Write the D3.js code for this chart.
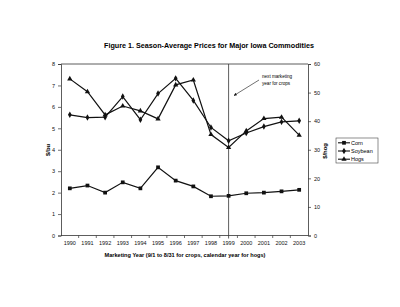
<!DOCTYPE html>
<html><head><meta charset="utf-8">
<script src="https://cdn.jsdelivr.net/npm/d3@7"></script>
<style>
html,body{margin:0;padding:0;background:#fff;}
svg{display:block;font-family:"Liberation Sans",Arial,sans-serif;}
</style></head>
<body><svg id="c" width="400" height="307"></svg>
<script>
const years = ["1990","1991","1992","1993","1994","1995","1996","1997","1998","1999","2000","2001","2002","2003"];
const corn = [2.20,2.33,2.00,2.48,2.20,3.18,2.56,2.29,1.83,1.85,1.97,2.00,2.06,2.13];
const soybean = [5.63,5.50,5.52,6.48,5.40,6.62,7.33,6.30,5.04,4.42,4.78,5.08,5.30,5.35];
const hogs = [54.8,50.3,42.2,45.3,43.6,40.8,52.7,54.4,35.3,30.8,36.6,40.9,41.4,35.1];
const leftTicks = [0,1,2,3,4,5,6,7,8];
const rightTicks = [0,10,20,30,40,50,60];
const markerYear = "1999";

const svg = d3.select("#c");
const L=61, R=308, T=64, B=235.5;
const x = d3.scaleBand().domain(years).range([L,R]);
const yL = d3.scaleLinear().domain([0,8]).range([B,T]);
const yR = d3.scaleLinear().domain([0,60]).range([B,T]);
const cx = d => x(d)+x.bandwidth()/2;

svg.append("text").attr("x",209).attr("y",48).attr("text-anchor","middle")
  .attr("font-size",7.2).attr("font-weight","bold").text("Figure 1. Season-Average Prices for Major Iowa Commodities");

// frame
svg.append("line").attr("x1",L).attr("x2",R).attr("y1",T).attr("y2",T).attr("stroke","#333").attr("stroke-width",0.8);

const gl = svg.append("g").attr("transform",`translate(${L},0)`)
  .call(d3.axisLeft(yL).tickValues(leftTicks).tickSize(3).tickFormat(d3.format("d")));
const gr = svg.append("g").attr("transform",`translate(${R},0)`)
  .call(d3.axisRight(yR).tickValues(rightTicks).tickSize(3).tickFormat(d3.format("d")));
const gb = svg.append("g").attr("transform",`translate(0,${B})`)
  .call(d3.axisBottom(x).tickSize(0).tickPadding(6));
// category boundary ticks
svg.append("g").selectAll("line").data(years.slice(1)).join("line")
  .attr("x1",d=>x(d)).attr("x2",d=>x(d)).attr("y1",B).attr("y2",B+2.5).attr("stroke","#333").attr("stroke-width",0.7);
[gl,gr,gb].forEach(g=>{
  g.selectAll("path").attr("stroke","#333").attr("stroke-width",0.8);
  g.selectAll("line").attr("stroke","#333").attr("stroke-width",0.7);
  g.selectAll("text").attr("font-size",5.5).attr("fill","#111").attr("font-family","Liberation Sans, Arial, sans-serif");
});
gb.selectAll(".domain").attr("d",`M${L},0H${R}`);

// vertical marker line
svg.append("line").attr("x1",cx(markerYear)).attr("x2",cx(markerYear)).attr("y1",T).attr("y2",B+3)
  .attr("stroke","#333").attr("stroke-width",0.8);

svg.append("text").attr("transform","translate(50,150) rotate(-90)").attr("text-anchor","middle")
  .attr("font-size",5.8).attr("font-weight","bold").text("$/bu");
svg.append("text").attr("transform","translate(327,151) rotate(-90)").attr("text-anchor","middle")
  .attr("font-size",5.8).attr("font-weight","bold").text("$/hog");
svg.append("text").attr("x",185).attr("y",256.5).attr("text-anchor","middle")
  .attr("font-size",5.6).attr("font-weight","bold").text("Marketing Year (9/1 to 8/31 for crops, calendar year for hogs)");

const series = [
  {name:"Corn", vals:corn, y:yL, sym:d3.symbolSquare, size:14},
  {name:"Soybean", vals:soybean, y:yL, sym:d3.symbolDiamond, size:12},
  {name:"Hogs", vals:hogs, y:yR, sym:d3.symbolTriangle, size:12}
];
series.forEach(s=>{
  const line = d3.line().x((d,i)=>cx(years[i])).y(d=>s.y(d));
  svg.append("path").attr("d",line(s.vals)).attr("fill","none").attr("stroke","#111").attr("stroke-width",1.2);
  svg.append("g").selectAll("path").data(s.vals).join("path")
    .attr("transform",(d,i)=>`translate(${cx(years[i])},${s.y(d)})`)
    .attr("d",d3.symbol().type(s.sym).size(s.size)).attr("fill","#111");
});

// annotation
svg.append("defs").append("marker").attr("id","ah").attr("viewBox","0 0 10 10").attr("refX",9).attr("refY",5)
  .attr("markerWidth",5).attr("markerHeight",5).attr("orient","auto")
  .append("path").attr("d","M0,0L10,5L0,10z").attr("fill","#111");
svg.append("line").attr("x1",259).attr("y1",80).attr("x2",234).attr("y2",95.5)
  .attr("stroke","#111").attr("stroke-width",0.6).attr("marker-end","url(#ah)");
svg.append("text").attr("x",262).attr("y",78).attr("font-size",4.6).text("next marketing");
svg.append("text").attr("x",262).attr("y",84.5).attr("font-size",4.6).text("year for crops");

// legend
const lg = svg.append("g");
lg.append("rect").attr("x",336).attr("y",138).attr("width",42).attr("height",25)
  .attr("fill","#fff").attr("stroke","#444").attr("stroke-width",0.6);
series.forEach((s,i)=>{
  const yy = 142.8 + i*8.2;
  lg.append("line").attr("x1",338).attr("x2",350).attr("y1",yy).attr("y2",yy).attr("stroke","#111").attr("stroke-width",1.1);
  lg.append("path").attr("transform",`translate(344,${yy})`).attr("d",d3.symbol().type(s.sym).size(s.size)).attr("fill","#111");
  lg.append("text").attr("x",351).attr("y",yy+2).attr("font-size",5.5).text(s.name);
});
</script></body></html>
